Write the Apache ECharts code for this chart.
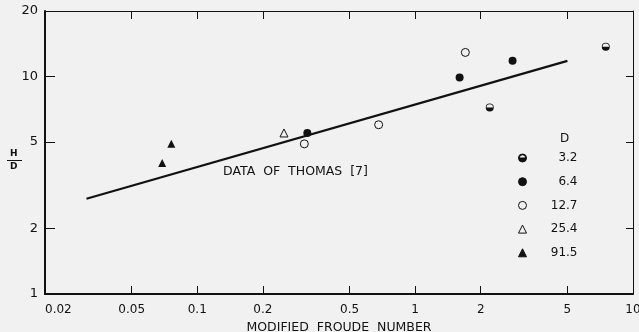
<!DOCTYPE html>
<html>
<head>
<meta charset="utf-8">
<script src="https://cdn.jsdelivr.net/npm/echarts@6/dist/echarts.min.js"></script>
<style>
  html, body { margin: 0; padding: 0; background: #f1f1f1; }
  #main { width: 639px; height: 332px; }
</style>
</head>
<body>
<div id="main"></div>
<script>
// points per pipe diameter D, [froude number, H/D]
const d32 = [[2.2, 7.2], [7.5, 13.7]]
const d64 = [[0.32, 5.5], [1.6, 9.9], [2.8, 11.8]]
const d127 = [[0.31, 4.9], [0.68, 6.0], [1.7, 12.9]]
const d254 = [[0.25, 5.5]]
const d915 = [[0.069, 4.0], [0.076, 4.9]]
// fitted line, data of Thomas [7]
const thomas = [[0.031, 2.74], [5, 11.8]]

const xTicks = [0.02, 0.05, 0.1, 0.2, 0.5, 1, 2, 5, 10]
const yTicks = [1, 2, 5, 10, 20]

const ink = '#111'
const bg = '#f1f1f1'
const font = 'DejaVu Sans'
// half filled circle (bottom black, top open)
const halfCircle = 'path://M0,10A10,10,0,1,1,20,10A10,10,0,1,1,0,10ZM2,10L18,10A8,8,0,0,0,2,10Z'

const chart = echarts.init(document.getElementById('main'))

function xAxisCfg(pos, main) {
  return {
    type: 'log',
    position: pos,
    min: 0.02,
    max: 10,
    axisLine: { show: true, lineStyle: { color: ink, width: main ? 2 : 1 } },
    axisTick: { show: true, inside: true, length: 8, customValues: [0.05, 0.1, 0.2, 0.5, 1, 2, 5], lineStyle: { color: ink, width: 1 } },
    axisLabel: {
      show: main,
      customValues: xTicks,
      color: ink,
      fontFamily: font,
      fontSize: 12,
      margin: 10,
      alignMinLabel: 'left',
      formatter: function (v) { return String(v) }
    },
    splitLine: { show: false },
    minorTick: { show: false },
    name: main ? 'MODIFIED  FROUDE  NUMBER' : '',
    nameLocation: 'middle',
    nameGap: 25,
    nameTextStyle: { color: ink, fontFamily: font, fontSize: 12.5 }
  }
}

function yAxisCfg(pos, main) {
  return {
    type: 'log',
    position: pos,
    min: 1,
    max: 20,
    axisLine: { show: true, lineStyle: { color: ink, width: main ? 2 : 1 } },
    axisTick: { show: true, inside: true, length: main ? 10 : 7, customValues: [2, 5, 10], lineStyle: { color: ink, width: 1 } },
    axisLabel: {
      show: main,
      customValues: yTicks,
      color: ink,
      fontFamily: font,
      fontSize: 13,
      margin: 7,
      formatter: function (v) { return String(v) }
    },
    splitLine: { show: false },
    minorTick: { show: false }
  }
}

function pts(name, data, symbol, fill, border) {
  return {
    name: name,
    type: 'scatter',
    data: data,
    symbol: symbol,
    symbolSize: 8,
    itemStyle: { color: fill, borderColor: border || fill, borderWidth: border ? 1 : 0, opacity: 1 },
    z: 5
  }
}

const option = {
  backgroundColor: bg,
  animation: false,
  grid: { left: 45, right: 6, top: 11, bottom: 38, outerBoundsMode: 'none', containLabel: false },
  xAxis: [xAxisCfg('bottom', true), xAxisCfg('top', false)],
  yAxis: [yAxisCfg('left', true), yAxisCfg('right', false)],
  legend: {
    orient: 'vertical',
    left: 518,
    top: 152,
    padding: 0,
    itemWidth: 8,
    itemHeight: 8,
    itemGap: 11.7,
    itemStyle: { borderWidth: 1 },
    data: ['3.2', '6.4', '12.7', '25.4', '91.5'],
    formatter: function (name) { return '{n|' + name + '}' },
    textStyle: {
      color: ink,
      fontFamily: font,
      fontSize: 12,
      rich: { n: { width: 46, align: 'right', fontFamily: font, fontSize: 12, color: ink } }
    }
  },
  graphic: [
    { type: 'text', left: 560, top: 133, style: { text: 'D', fill: ink, font: '12px DejaVu Sans' } },
    { type: 'text', left: 223, top: 165, style: { text: 'DATA  OF  THOMAS  [7]', fill: ink, font: '12.5px DejaVu Sans' } },
    { type: 'text', left: 10, top: 149, style: { text: 'H', fill: ink, font: 'bold 9px DejaVu Sans' } },
    { type: 'line', shape: { x1: 7, y1: 160.5, x2: 22, y2: 160.5 }, style: { stroke: ink, lineWidth: 1 } },
    { type: 'text', left: 10, top: 162, style: { text: 'D', fill: ink, font: 'bold 9px DejaVu Sans' } }
  ],
  series: [
    {
      name: 'thomas',
      type: 'line',
      data: thomas,
      showSymbol: false,
      symbol: 'none',
      lineStyle: { color: ink, width: 2.2 },
      z: 3
    },
    pts('3.2', d32, halfCircle, ink),
    pts('6.4', d64, 'circle', ink),
    pts('12.7', d127, 'circle', bg, ink),
    pts('25.4', d254, 'triangle', bg, ink),
    pts('91.5', d915, 'triangle', ink)
  ]
}

chart.setOption(option)
</script>
</body>
</html>
